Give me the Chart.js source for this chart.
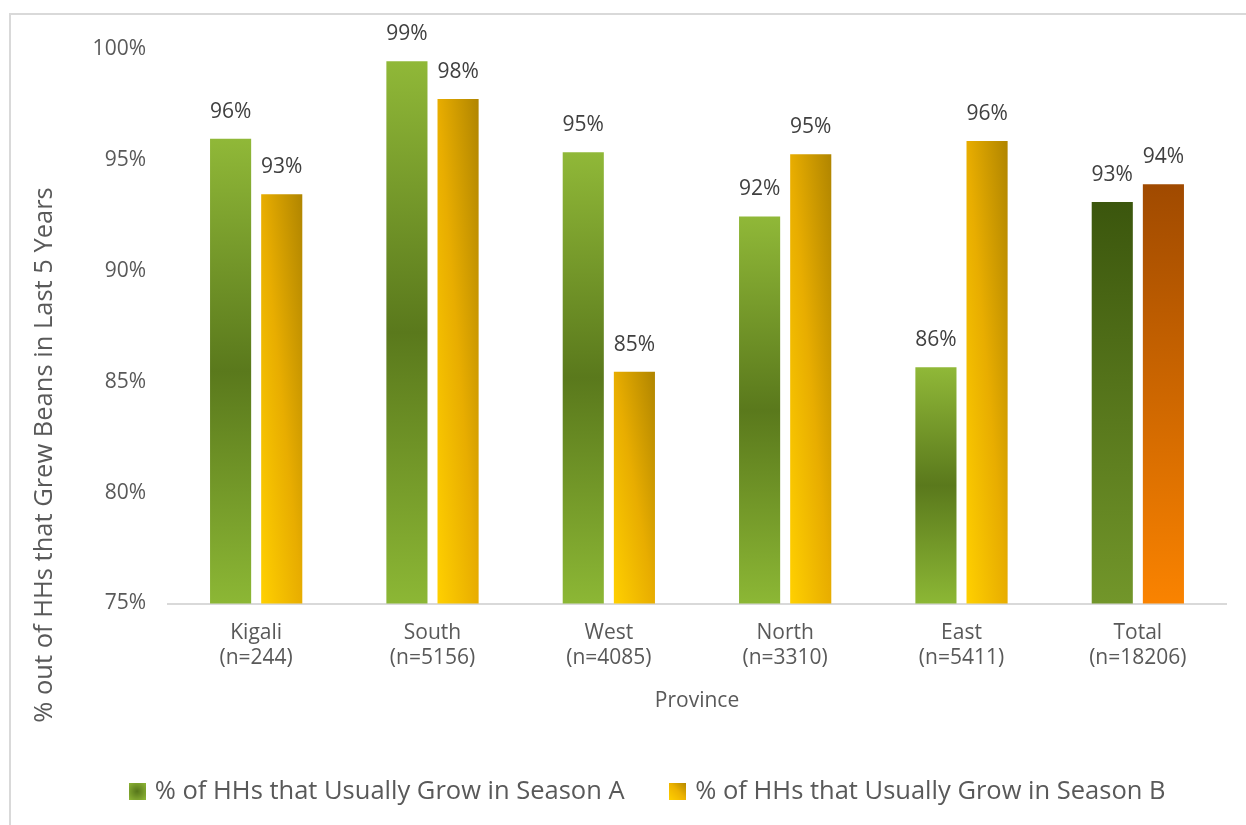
<!DOCTYPE html>
<html>
<head>
<meta charset="utf-8">
<script src="https://cdn.jsdelivr.net/npm/chart.js@4/dist/chart.umd.min.js"></script>
<style>
  html, body { margin: 0; padding: 0; background: #ffffff; }
  #wrap { width: 1246px; height: 825px; position: relative; }
</style>
</head>
<body>
<div id="wrap"><canvas id="c" width="1246" height="825"></canvas></div>
<script>
// ---- Data ----
const provinces = ["Kigali", "South", "West", "North", "East", "Total"];
const sampleSizes = ["(n=244)", "(n=5156)", "(n=4085)", "(n=3310)", "(n=5411)", "(n=18206)"];
const seasonA = [95.95, 99.45, 95.35, 92.45, 85.65, 93.1];
const seasonB = [93.45, 97.75, 85.45, 95.25, 95.85, 93.9];
const seriesNames = ["% of HHs that Usually Grow in Season A", "% of HHs that Usually Grow in Season B"];
const yTicks = [75, 80, 85, 90, 95, 100];

const FONT = "'Open Sans', 'DejaVu Sans', sans-serif";
const CAT_PCT = 0.58, BAR_PCT = 0.804;

function barGeom(chart, index, dsIndex, value) {
  const xs = chart.scales.x, ys = chart.scales.y;
  const catW = xs.width / provinces.length;
  const center = xs.getPixelForValue(index);
  const slot = catW * CAT_PCT / 2;
  const w = slot * BAR_PCT;
  const cx = center + (dsIndex === 0 ? -slot / 2 : slot / 2);
  return { left: cx - w / 2, right: cx + w / 2, top: ys.getPixelForValue(value), bottom: ys.getPixelForValue(yTicks[0]) };
}

function colorA(ctx) {
  const chart = ctx.chart;
  if (ctx.type !== 'data' || !chart.chartArea || !chart.scales.y) return '#7aa02c';
  const g = barGeom(chart, ctx.dataIndex, 0, ctx.raw);
  const c = chart.ctx;
  let grad = c.createLinearGradient(0, g.top, 0, g.bottom);
  if (ctx.dataIndex === provinces.length - 1) {
    grad.addColorStop(0, '#3b560d');
    grad.addColorStop(1, '#72962a');
  } else {
    grad.addColorStop(0, '#90b838');
    grad.addColorStop(0.5, '#5a791c');
    grad.addColorStop(1, '#8cb735');
  }
  return grad;
}

function colorB(ctx) {
  const chart = ctx.chart;
  if (ctx.type !== 'data' || !chart.chartArea || !chart.scales.y) return '#f0b400';
  const g = barGeom(chart, ctx.dataIndex, 1, ctx.raw);
  const c = chart.ctx;
  if (ctx.dataIndex === provinces.length - 1) {
    const grad = c.createLinearGradient(0, g.top, 0, g.bottom);
    grad.addColorStop(0, '#a04a00');
    grad.addColorStop(1, '#fa8300');
    return grad;
  }
  const w = g.right - g.left, h = g.bottom - g.top;
  const k = 2 * w * h / (h * h + w * w);
  const grad = c.createLinearGradient(g.left, g.bottom, g.left + k * h, g.bottom - k * w);
  grad.addColorStop(0, '#ffd000');
  grad.addColorStop(0.5, '#e8ad00');
  grad.addColorStop(1, '#b08500');
  return grad;
}

function legendSwatch(kind) {
  const cv = document.createElement('canvas');
  cv.width = 17; cv.height = 17;
  const c = cv.getContext('2d');
  let g;
  if (kind === 0) {
    g = c.createRadialGradient(8.5, 8.5, 0, 8.5, 8.5, 12);
    g.addColorStop(0, '#56751a');
    g.addColorStop(1, '#90b838');
  } else {
    g = c.createLinearGradient(0, 17, 17, 0);
    g.addColorStop(0, '#ffd000');
    g.addColorStop(0.5, '#eeb400');
    g.addColorStop(1, '#b48800');
  }
  c.fillStyle = g;
  c.fillRect(0, 0, 17, 17);
  return cv;
}
const swatches = [legendSwatch(0), legendSwatch(1)];

const framePlugin = {
  id: 'frame',
  beforeDraw(chart) {
    const c = chart.ctx;
    c.save();
    c.fillStyle = '#ffffff';
    c.fillRect(0, 0, chart.width, chart.height);
    c.strokeStyle = '#d9d9d9';
    c.lineWidth = 2;
    c.strokeRect(10, 14, chart.width + 20, chart.height + 20);
    c.restore();
  }
};

const yTitlePlugin = {
  id: 'yTitle',
  afterDraw(chart) {
    const c = chart.ctx;
    c.save();
    c.translate(45, 455);
    c.rotate(-Math.PI / 2);
    c.font = "25.5px " + FONT;
    c.fillStyle = '#595959';
    c.textAlign = 'center';
    c.textBaseline = 'middle';
    c.fillText("% out of HHs that Grew Beans in Last 5 Years", 0, 0);
    c.restore();
  }
};

const valueLabelPlugin = {
  id: 'valueLabels',
  afterDatasetsDraw(chart) {
    const c = chart.ctx;
    c.save();
    c.font = "21px " + FONT;
    c.fillStyle = '#404040';
    c.textAlign = 'center';
    c.textBaseline = 'middle';
    chart.data.datasets.forEach((ds, di) => {
      const meta = chart.getDatasetMeta(di);
      meta.data.forEach((el, i) => {
        c.fillText(Math.round(ds.data[i]) + '%', el.x, el.y - 27);
      });
    });
    c.restore();
  }
};

new Chart(document.getElementById('c'), {
  type: 'bar',
  data: {
    labels: provinces.map((p, i) => [p, sampleSizes[i]]),
    datasets: [
      { label: seriesNames[0], data: seasonA, backgroundColor: colorA, categoryPercentage: CAT_PCT, barPercentage: BAR_PCT, pointStyle: swatches[0] },
      { label: seriesNames[1], data: seasonB, backgroundColor: colorB, categoryPercentage: CAT_PCT, barPercentage: BAR_PCT, pointStyle: swatches[1] }
    ]
  },
  options: {
    responsive: false,
    animation: false,
    layout: { padding: { left: 71.5, right: 20, top: 49, bottom: 11 } },
    scales: {
      x: {
        grid: { display: false, drawTicks: false },
        border: { display: true, color: '#d9d9d9', width: 2 },
        ticks: { color: '#595959', font: { family: FONT, size: 21 }, padding: 17, maxRotation: 0, autoSkip: false },
        title: { display: true, text: 'Province', color: '#595959', font: { family: FONT, size: 21 }, padding: { top: 0, bottom: 17 } },
        afterFit(s) { s.height = 127; }
      },
      y: {
        min: yTicks[0], max: yTicks[yTicks.length - 1],
        grid: { display: false, drawTicks: false },
        border: { display: false },
        ticks: { stepSize: 5, color: '#595959', font: { family: FONT, size: 21 }, padding: 22, callback: v => v + '%' },
        afterFit(s) { s.width = 96.5; }
      }
    },
    plugins: {
      legend: {
        position: 'bottom',
        maxHeight: 95,
        labels: { usePointStyle: true, pointStyleWidth: 10, boxWidth: 10, boxHeight: 17, padding: 48, color: '#595959', font: { family: FONT, size: 25.5 } }
      },
      tooltip: { enabled: false }
    }
  },
  plugins: [framePlugin, yTitlePlugin, valueLabelPlugin]
});
</script>
</body>
</html>
